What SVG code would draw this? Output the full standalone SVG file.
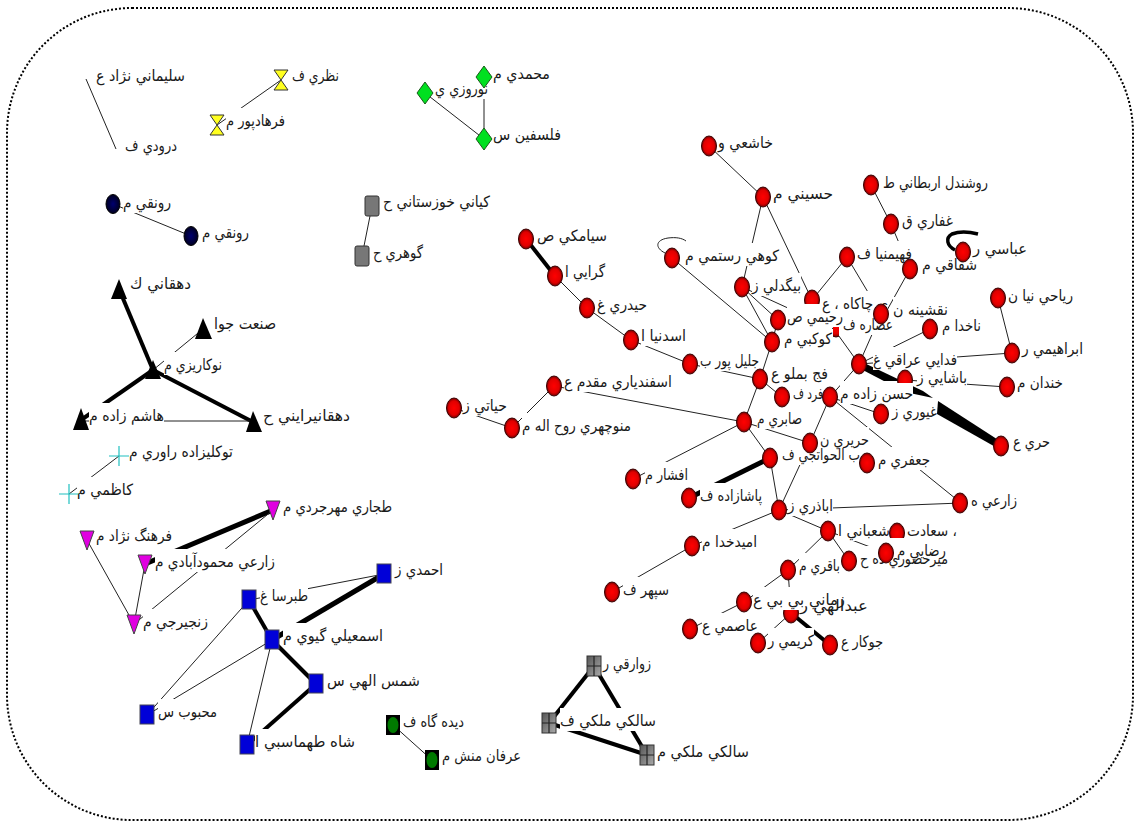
<svg xmlns="http://www.w3.org/2000/svg" width="1134" height="821" viewBox="0 0 1134 821">
<style>
text{font-family:"DejaVu Sans","Noto Sans",sans-serif;font-size:15.5px;fill:#1a1a1a}
.f{fill:none;stroke:#000;stroke-width:2;stroke-dasharray:2 2}
#connectors line,#connectors path{stroke:#222;stroke-width:1;fill:none}
#connectors .t4{stroke:#000;stroke-width:4}
#connectors .t5{stroke:#000;stroke-width:5}
#connectors .k{fill:#000;stroke:none}
.p{fill:#fff}
.r{fill:url(#gr);stroke:#3a0000;stroke-width:1}
.nv{fill:url(#gn);stroke:#000;stroke-width:1}
.y{fill:#ffff20;stroke:#333;stroke-width:1}
.d{fill:#00e020;stroke:#1a5a1a;stroke-width:1}
.gy{fill:#777;stroke:#333;stroke-width:1}
.b{fill:#000}
.m{fill:#e000e0;stroke:#444;stroke-width:1}
.bl{fill:#0000d8;stroke:#445;stroke-width:1}
.gb{fill:#000}
.ge{fill:#007a00}
.gs{fill:url(#gg);stroke:#333;stroke-width:1}
.gl{stroke:#222;stroke-width:1.2;fill:none}
.c{stroke:#20c0c0;stroke-width:1.2;fill:none}
</style>
<defs>
<radialGradient id="gr"><stop offset="0" stop-color="#ff0000"/><stop offset=".7" stop-color="#e00000"/><stop offset="1" stop-color="#700000"/></radialGradient>
<radialGradient id="gn"><stop offset="0" stop-color="#000070"/><stop offset="1" stop-color="#000020"/></radialGradient>
<linearGradient id="gg" x1="0" y1="0" x2="1" y2="1"><stop offset="0" stop-color="#555"/><stop offset="1" stop-color="#aaa"/></linearGradient>
<clipPath id="c1"><rect x="800" y="285" width="30" height="19"/></clipPath>
<clipPath id="c2"><rect x="833" y="327" width="6" height="12"/></clipPath>
<clipPath id="c3"><rect x="890" y="365" width="30" height="18"/></clipPath>
<clipPath id="c4"><rect x="885" y="520" width="24" height="18"/></clipPath>
<clipPath id="c5"><rect x="780" y="610" width="24" height="16"/></clipPath>
</defs>
<rect class="f" x="7" y="8" width="1126" height="812" rx="125" ry="125"/>
<g id="connectors">
<line x1="86" y1="79" x2="116" y2="149"/>
<line x1="217" y1="125" x2="281" y2="80"/>
<line x1="425" y1="93" x2="484" y2="139"/>
<line x1="484" y1="77" x2="484" y2="139"/>
<line x1="113" y1="204" x2="191" y2="236"/>
<line x1="372" y1="206" x2="362" y2="256"/>
<line class="t4" x1="119" y1="289" x2="153" y2="370"/>
<line class="t4" x1="153" y1="370" x2="81" y2="420"/>
<line class="t4" x1="153" y1="370" x2="253" y2="422"/>
<line x1="81" y1="421" x2="253" y2="421"/>
<line x1="203" y1="329" x2="153" y2="370"/>
<line x1="119" y1="456" x2="69" y2="494"/>
<line class="t5" x1="273" y1="510" x2="145" y2="564"/>
<line x1="273" y1="510" x2="134" y2="624"/>
<line x1="87" y1="540" x2="134" y2="624"/>
<line x1="145" y1="564" x2="134" y2="624"/>
<line class="t5" x1="384" y1="574" x2="272" y2="640"/>
<line x1="384" y1="574" x2="249" y2="600"/>
<line class="t4" x1="249" y1="600" x2="272" y2="640"/>
<line class="t4" x1="272" y1="640" x2="316" y2="684"/>
<line class="t4" x1="316" y1="684" x2="247" y2="745"/>
<line x1="249" y1="600" x2="147" y2="715"/>
<line x1="272" y1="640" x2="147" y2="715"/>
<line x1="272" y1="640" x2="247" y2="745"/>
<line x1="393" y1="725" x2="432" y2="760"/>
<line class="t4" x1="594" y1="666" x2="549" y2="723"/>
<line class="t4" x1="594" y1="666" x2="647" y2="755"/>
<line class="t4" x1="549" y1="723" x2="647" y2="755"/>
<line x1="709" y1="146" x2="763" y2="197"/>
<line x1="763" y1="197" x2="742" y2="287"/>
<line x1="763" y1="197" x2="812" y2="300"/>
<line x1="871" y1="185" x2="891" y2="224"/>
<line x1="891" y1="224" x2="910" y2="269"/>
<line x1="672" y1="258" x2="772" y2="342"/>
<line x1="742" y1="287" x2="778" y2="320"/>
<line x1="742" y1="287" x2="772" y2="342"/>
<line x1="742" y1="287" x2="836" y2="330"/>
<line x1="778" y1="320" x2="772" y2="342"/>
<line x1="847" y1="257" x2="812" y2="300"/>
<line x1="847" y1="257" x2="881" y2="314"/>
<line x1="910" y1="269" x2="881" y2="321"/>
<line x1="881" y1="314" x2="859" y2="364"/>
<line x1="930" y1="329" x2="859" y2="364"/>
<line x1="836" y1="332" x2="859" y2="364"/>
<line x1="1012" y1="353" x2="859" y2="364"/>
<line x1="998" y1="298" x2="1012" y2="353"/>
<line x1="1007" y1="387" x2="905" y2="380"/>
<path class="k" d="M857 367L860 361L923 391L933 398L905 392Z"/>
<path class="k" d="M938 401L1003 443L999 449L937 414Z"/>
<line x1="859" y1="364" x2="830" y2="397"/>
<line x1="830" y1="397" x2="810" y2="443"/>
<line x1="830" y1="397" x2="961" y2="503"/>
<line x1="830" y1="397" x2="881" y2="414"/>
<line x1="772" y1="342" x2="760" y2="379"/>
<line x1="760" y1="379" x2="744" y2="422"/>
<line x1="760" y1="379" x2="782" y2="397"/>
<line x1="690" y1="364" x2="760" y2="379"/>
<line class="t4" x1="526" y1="239" x2="555" y2="276"/>
<line x1="555" y1="276" x2="587" y2="308"/>
<line x1="587" y1="308" x2="631" y2="340"/>
<line x1="631" y1="340" x2="690" y2="364"/>
<line x1="744" y1="422" x2="554" y2="386"/>
<line x1="744" y1="422" x2="810" y2="443"/>
<line x1="744" y1="422" x2="770" y2="458"/>
<line x1="744" y1="422" x2="633" y2="479"/>
<line x1="770" y1="458" x2="779" y2="510"/>
<line class="t5" x1="770" y1="458" x2="689" y2="498"/>
<line x1="810" y1="443" x2="779" y2="510"/>
<line x1="779" y1="510" x2="961" y2="503"/>
<line x1="779" y1="510" x2="692" y2="546"/>
<line x1="779" y1="510" x2="828" y2="531"/>
<line x1="692" y1="546" x2="612" y2="592"/>
<line x1="828" y1="531" x2="788" y2="570"/>
<line x1="828" y1="531" x2="849" y2="561"/>
<line x1="828" y1="531" x2="886" y2="553"/>
<line x1="788" y1="570" x2="744" y2="602"/>
<line x1="788" y1="570" x2="791" y2="613"/>
<line x1="744" y1="602" x2="690" y2="629"/>
<line x1="791" y1="613" x2="758" y2="643"/>
<line class="t4" x1="791" y1="613" x2="830" y2="645"/>
<line x1="554" y1="386" x2="512" y2="428"/>
<line x1="454" y1="408" x2="512" y2="428"/>
<path d="M665 253C655 248 655 240 668 238C676 237 682 238 686 241"/>
<path class="t4" style="stroke-width:3.5" d="M955 250C947 246 945 238 952 234C960 231 970 232 978 234"/>
</g>
<g id="label-plates">
<rect class="p" x="96" y="63" width="89" height="23"/>
<rect class="p" x="125" y="133" width="52" height="23"/>
<rect class="p" x="292" y="63" width="47" height="23"/>
<rect class="p" x="226" y="108" width="59" height="23"/>
<rect class="p" x="493" y="61" width="57" height="23"/>
<rect class="p" x="435" y="76" width="53" height="23"/>
<rect class="p" x="493" y="122" width="68" height="23"/>
<rect class="p" x="123" y="190" width="48" height="23"/>
<rect class="p" x="202" y="220" width="47" height="23"/>
<rect class="p" x="383" y="189" width="107" height="23"/>
<rect class="p" x="373" y="240" width="50" height="23"/>
<rect class="p" x="130" y="271" width="61" height="23"/>
<rect class="p" x="214" y="311" width="62" height="23"/>
<rect class="p" x="164" y="352" width="58" height="23"/>
<rect class="p" x="89" y="403" width="75" height="23"/>
<rect class="p" x="263" y="403" width="87" height="23"/>
<rect class="p" x="129" y="439" width="104" height="23"/>
<rect class="p" x="77" y="477" width="56" height="23"/>
<rect class="p" x="283" y="494" width="109" height="23"/>
<rect class="p" x="96" y="523" width="76" height="23"/>
<rect class="p" x="155" y="549" width="120" height="23"/>
<rect class="p" x="143" y="609" width="65" height="23"/>
<rect class="p" x="395" y="557" width="48" height="23"/>
<rect class="p" x="260" y="583" width="48" height="23"/>
<rect class="p" x="283" y="623" width="100" height="23"/>
<rect class="p" x="327" y="668" width="93" height="23"/>
<rect class="p" x="158" y="699" width="59" height="23"/>
<rect class="p" x="255" y="729" width="100" height="23"/>
<rect class="p" x="403" y="709" width="61" height="23"/>
<rect class="p" x="442" y="743" width="79" height="23"/>
<rect class="p" x="603" y="651" width="48" height="23"/>
<rect class="p" x="560" y="708" width="96" height="23"/>
<rect class="p" x="657" y="739" width="92" height="23"/>
<rect class="p" x="718" y="130" width="55" height="23"/>
<rect class="p" x="773" y="181" width="60" height="23"/>
<rect class="p" x="883" y="170" width="105" height="23"/>
<rect class="p" x="902" y="208" width="51" height="23"/>
<rect class="p" x="973" y="236" width="54" height="23"/>
<rect class="p" x="857" y="241" width="55" height="23"/>
<rect class="p" x="922" y="252" width="55" height="23"/>
<rect class="p" x="685" y="243" width="94" height="23"/>
<rect class="p" x="752" y="273" width="49" height="23"/>
<rect class="p" x="787" y="304" width="56" height="23"/>
<rect class="p" x="822" y="291" width="66" height="23"/>
<rect class="p" x="893" y="297" width="55" height="23"/>
<rect class="p" x="942" y="313" width="39" height="23"/>
<rect class="p" x="843" y="312" width="50" height="23"/>
<rect class="p" x="873" y="347" width="84" height="23"/>
<rect class="p" x="1022" y="336" width="61" height="23"/>
<rect class="p" x="1008" y="283" width="65" height="23"/>
<rect class="p" x="1017" y="370" width="46" height="23"/>
<rect class="p" x="917" y="365" width="50" height="23"/>
<rect class="p" x="840" y="381" width="73" height="23"/>
<rect class="p" x="892" y="399" width="45" height="23"/>
<rect class="p" x="1013" y="429" width="37" height="23"/>
<rect class="p" x="784" y="326" width="48" height="23"/>
<rect class="p" x="700" y="348" width="59" height="23"/>
<rect class="p" x="771" y="361" width="57" height="23"/>
<rect class="p" x="793" y="381" width="30" height="23"/>
<rect class="p" x="757" y="406" width="45" height="23"/>
<rect class="p" x="820" y="427" width="49" height="23"/>
<rect class="p" x="878" y="447" width="52" height="23"/>
<rect class="p" x="782" y="442" width="78" height="23"/>
<rect class="p" x="645" y="462" width="43" height="23"/>
<rect class="p" x="700" y="483" width="62" height="23"/>
<rect class="p" x="788" y="493" width="45" height="23"/>
<rect class="p" x="838" y="518" width="52" height="23"/>
<rect class="p" x="907" y="518" width="50" height="23"/>
<rect class="p" x="897" y="538" width="49" height="23"/>
<rect class="p" x="860" y="546" width="88" height="23"/>
<rect class="p" x="799" y="553" width="41" height="23"/>
<rect class="p" x="702" y="529" width="55" height="23"/>
<rect class="p" x="623" y="577" width="46" height="23"/>
<rect class="p" x="753" y="587" width="92" height="23"/>
<rect class="p" x="800" y="593" width="68" height="23"/>
<rect class="p" x="702" y="613" width="56" height="23"/>
<rect class="p" x="768" y="628" width="46" height="23"/>
<rect class="p" x="841" y="629" width="42" height="23"/>
<rect class="p" x="971" y="488" width="46" height="23"/>
<rect class="p" x="537" y="223" width="70" height="23"/>
<rect class="p" x="565" y="259" width="40" height="23"/>
<rect class="p" x="597" y="292" width="50" height="23"/>
<rect class="p" x="641" y="323" width="45" height="23"/>
<rect class="p" x="564" y="369" width="108" height="23"/>
<rect class="p" x="463" y="393" width="44" height="23"/>
<rect class="p" x="522" y="413" width="109" height="23"/>
</g>
<g id="n001"><text x="96" y="81" textLength="89" lengthAdjust="spacingAndGlyphs">سليماني نژاد ع</text></g>
<g id="n002"><text x="125" y="151" textLength="52" lengthAdjust="spacingAndGlyphs">درودي ف</text></g>
<g id="n003"><polygon class="y" points="274,70 288,70 274,90 288,90"/><text x="292" y="81" textLength="47" lengthAdjust="spacingAndGlyphs">نظري ف</text></g>
<g id="n004"><polygon class="y" points="210,115 224,115 210,135 224,135"/><text x="226" y="126" textLength="59" lengthAdjust="spacingAndGlyphs">فرهادپور م</text></g>
<g id="n005"><polygon class="d" points="484,66 492,77 484,88 476,77"/><text x="493" y="79" textLength="57" lengthAdjust="spacingAndGlyphs">محمدي م</text></g>
<g id="n006"><polygon class="d" points="425,82 433,93 425,104 417,93"/><text x="435" y="94" textLength="53" lengthAdjust="spacingAndGlyphs">نوروزي ي</text></g>
<g id="n007"><polygon class="d" points="484,128 492,139 484,150 476,139"/><text x="493" y="140" textLength="68" lengthAdjust="spacingAndGlyphs">فلسفين س</text></g>
<g id="n008"><ellipse class="nv" cx="113" cy="204" rx="7" ry="9.5"/><text x="123" y="208" textLength="48" lengthAdjust="spacingAndGlyphs">رونقي م</text></g>
<g id="n009"><ellipse class="nv" cx="191" cy="236" rx="7" ry="9.5"/><text x="202" y="238" textLength="47" lengthAdjust="spacingAndGlyphs">رونقي م</text></g>
<g id="n010"><rect class="gy" x="365" y="196" width="14" height="20" rx="2"/><text x="383" y="207" textLength="107" lengthAdjust="spacingAndGlyphs">كياني خوزستاني ح</text></g>
<g id="n011"><rect class="gy" x="355" y="246" width="14" height="20" rx="2"/><text x="373" y="258" textLength="50" lengthAdjust="spacingAndGlyphs">گوهري ح</text></g>
<g id="n012"><polygon class="b" points="119,279 127,299 111,299"/><text x="130" y="289" textLength="61" lengthAdjust="spacingAndGlyphs">دهقاني ك</text></g>
<g id="n013"><polygon class="b" points="203,318 212,339 195,339"/><text x="214" y="329" textLength="62" lengthAdjust="spacingAndGlyphs">صنعت جوا</text></g>
<g id="n014"><polygon class="b" points="153,360 161,379 145,379"/><text x="164" y="370" textLength="58" lengthAdjust="spacingAndGlyphs">نوكاريزي م</text></g>
<g id="n015"><polygon class="b" points="81,408 89,430 73,430"/><text x="89" y="421" textLength="75" lengthAdjust="spacingAndGlyphs">هاشم زاده م</text></g>
<g id="n016"><polygon class="b" points="253,411 262,432 246,432"/><text x="263" y="421" textLength="87" lengthAdjust="spacingAndGlyphs">دهقانيرايني ح</text></g>
<g id="n017"><path class="c" d="M109 456H129M119 446V466"/><text x="129" y="457" textLength="104" lengthAdjust="spacingAndGlyphs">توكليزاده راوري م</text></g>
<g id="n018"><path class="c" d="M59 494H79M69 484V504"/><text x="77" y="495" textLength="56" lengthAdjust="spacingAndGlyphs">كاظمي م</text></g>
<g id="n019"><polygon class="m" points="266,501 280,501 273,520"/><text x="283" y="512" textLength="109" lengthAdjust="spacingAndGlyphs">طجاري مهرجردي م</text></g>
<g id="n020"><polygon class="m" points="80,531 94,531 87,550"/><text x="96" y="541" textLength="76" lengthAdjust="spacingAndGlyphs">فرهنگ نژاد م</text></g>
<g id="n021"><polygon class="m" points="138,555 152,555 145,574"/><text x="155" y="567" textLength="120" lengthAdjust="spacingAndGlyphs">زارعي محمودآبادي م</text></g>
<g id="n022"><polygon class="m" points="127,615 141,615 134,634"/><text x="143" y="627" textLength="65" lengthAdjust="spacingAndGlyphs">زنجيرجي م</text></g>
<g id="n023"><rect class="bl" x="377" y="564" width="14" height="19"/><text x="395" y="575" textLength="48" lengthAdjust="spacingAndGlyphs">احمدي ز</text></g>
<g id="n024"><rect class="bl" x="242" y="590" width="14" height="19"/><text x="260" y="601" textLength="48" lengthAdjust="spacingAndGlyphs">طبرسا غ</text></g>
<g id="n025"><rect class="bl" x="265" y="630" width="14" height="19"/><text x="283" y="641" textLength="100" lengthAdjust="spacingAndGlyphs">اسمعيلي گيوي م</text></g>
<g id="n026"><rect class="bl" x="309" y="674" width="14" height="19"/><text x="327" y="686" textLength="93" lengthAdjust="spacingAndGlyphs">شمس الهي س</text></g>
<g id="n027"><rect class="bl" x="140" y="705" width="14" height="19"/><text x="158" y="717" textLength="59" lengthAdjust="spacingAndGlyphs">محبوب س</text></g>
<g id="n028"><rect class="bl" x="240" y="735" width="14" height="19"/><text x="255" y="747" textLength="100" lengthAdjust="spacingAndGlyphs">شاه طهماسبي ا</text></g>
<g id="n029"><rect class="gb" x="386" y="715" width="14" height="20"/><ellipse class="ge" cx="393" cy="725" rx="5.5" ry="8"/><text x="403" y="727" textLength="61" lengthAdjust="spacingAndGlyphs">ديده گاه ف</text></g>
<g id="n030"><rect class="gb" x="425" y="750" width="14" height="20"/><ellipse class="ge" cx="432" cy="760" rx="5.5" ry="8"/><text x="442" y="761" textLength="79" lengthAdjust="spacingAndGlyphs">عرفان منش م</text></g>
<g id="n031"><rect class="gs" x="587" y="656" width="14" height="20"/><path class="gl" d="M594 656V676M587 666H601"/><text x="603" y="669" textLength="48" lengthAdjust="spacingAndGlyphs">زوارقي ر</text></g>
<g id="n032"><rect class="gs" x="542" y="713" width="14" height="20"/><path class="gl" d="M549 713V733M542 723H556"/><text x="560" y="726" textLength="96" lengthAdjust="spacingAndGlyphs">سالكي ملكي ف</text></g>
<g id="n033"><rect class="gs" x="640" y="745" width="14" height="20"/><path class="gl" d="M647 745V765M640 755H654"/><text x="657" y="757" textLength="92" lengthAdjust="spacingAndGlyphs">سالكي ملكي م</text></g>
<g id="n034"><ellipse class="r" cx="709" cy="146" rx="7.5" ry="10"/><text x="718" y="148" textLength="55" lengthAdjust="spacingAndGlyphs">خاشعي و</text></g>
<g id="n035"><ellipse class="r" cx="763" cy="197" rx="7.5" ry="10"/><text x="773" y="199" textLength="60" lengthAdjust="spacingAndGlyphs">حسيني م</text></g>
<g id="n036"><ellipse class="r" cx="871" cy="185" rx="7.5" ry="10"/><text x="883" y="188" textLength="105" lengthAdjust="spacingAndGlyphs">روشندل اربطاني ط</text></g>
<g id="n037"><ellipse class="r" cx="891" cy="224" rx="7.5" ry="10"/><text x="902" y="226" textLength="51" lengthAdjust="spacingAndGlyphs">غفاري ق</text></g>
<g id="n038"><ellipse class="r" cx="963" cy="252" rx="7.5" ry="10"/><text x="973" y="254" textLength="54" lengthAdjust="spacingAndGlyphs">عباسي ر</text></g>
<g id="n039"><ellipse class="r" cx="847" cy="257" rx="7.5" ry="10"/><text x="857" y="259" textLength="55" lengthAdjust="spacingAndGlyphs">فهيمنيا ف</text></g>
<g id="n040"><ellipse class="r" cx="910" cy="269" rx="7.5" ry="10"/><text x="922" y="270" textLength="55" lengthAdjust="spacingAndGlyphs">شفاقي م</text></g>
<g id="n041"><ellipse class="r" cx="672" cy="258" rx="7.5" ry="10"/><text x="685" y="261" textLength="94" lengthAdjust="spacingAndGlyphs">كوهي رستمي م</text></g>
<g id="n042"><ellipse class="r" cx="742" cy="287" rx="7.5" ry="10"/><text x="752" y="291" textLength="49" lengthAdjust="spacingAndGlyphs">بيگدلي ز</text></g>
<g id="n043"><ellipse class="r" cx="778" cy="320" rx="7.5" ry="10"/><text x="787" y="322" textLength="56" lengthAdjust="spacingAndGlyphs">رحيمي ص</text></g>
<g id="n044"><ellipse class="r" cx="812" cy="300" rx="7.5" ry="10" clip-path="url(#c1)"/><text x="822" y="309" textLength="66" lengthAdjust="spacingAndGlyphs">ي چاكاه ، ع</text></g>
<g id="n045"><ellipse class="r" cx="881" cy="314" rx="7.5" ry="10"/><text x="893" y="315" textLength="55" lengthAdjust="spacingAndGlyphs">نقشينه ن</text></g>
<g id="n046"><ellipse class="r" cx="930" cy="329" rx="7.5" ry="10"/><text x="942" y="331" textLength="39" lengthAdjust="spacingAndGlyphs">ناخدا م</text></g>
<g id="n047"><ellipse class="r" cx="836" cy="327" rx="7.5" ry="10" clip-path="url(#c2)"/><text x="843" y="330" textLength="50" lengthAdjust="spacingAndGlyphs">عصاره ف</text></g>
<g id="n048"><ellipse class="r" cx="859" cy="364" rx="7.5" ry="10"/><text x="873" y="365" textLength="84" lengthAdjust="spacingAndGlyphs">فدايي عراقي غ</text></g>
<g id="n049"><ellipse class="r" cx="1012" cy="353" rx="7.5" ry="10"/><text x="1022" y="354" textLength="61" lengthAdjust="spacingAndGlyphs">ابراهيمي ر</text></g>
<g id="n050"><ellipse class="r" cx="998" cy="298" rx="7.5" ry="10"/><text x="1008" y="301" textLength="65" lengthAdjust="spacingAndGlyphs">رياحي نيا ن</text></g>
<g id="n051"><ellipse class="r" cx="1007" cy="387" rx="7.5" ry="10"/><text x="1017" y="388" textLength="46" lengthAdjust="spacingAndGlyphs">خندان م</text></g>
<g id="n052"><ellipse class="r" cx="905" cy="380" rx="7.5" ry="10" clip-path="url(#c3)"/><text x="917" y="383" textLength="50" lengthAdjust="spacingAndGlyphs">باشايي ز</text></g>
<g id="n053"><ellipse class="r" cx="830" cy="397" rx="7.5" ry="10"/><text x="840" y="399" textLength="73" lengthAdjust="spacingAndGlyphs">حسن زاده م</text></g>
<g id="n054"><ellipse class="r" cx="881" cy="414" rx="7.5" ry="10"/><text x="892" y="417" textLength="45" lengthAdjust="spacingAndGlyphs">غيوري ز</text></g>
<g id="n055"><ellipse class="r" cx="1001" cy="446" rx="7.5" ry="10"/><text x="1013" y="447" textLength="37" lengthAdjust="spacingAndGlyphs">حري ع</text></g>
<g id="n056"><ellipse class="r" cx="772" cy="342" rx="7.5" ry="10"/><text x="784" y="344" textLength="48" lengthAdjust="spacingAndGlyphs">كوكبي م</text></g>
<g id="n057"><ellipse class="r" cx="690" cy="364" rx="7.5" ry="10"/><text x="700" y="366" textLength="59" lengthAdjust="spacingAndGlyphs">جليل پور ب</text></g>
<g id="n058"><ellipse class="r" cx="760" cy="379" rx="7.5" ry="10"/><text x="771" y="379" textLength="57" lengthAdjust="spacingAndGlyphs">فج بملو ع</text></g>
<g id="n059"><ellipse class="r" cx="782" cy="397" rx="7.5" ry="10"/><text x="793" y="399" textLength="30" lengthAdjust="spacingAndGlyphs">فرد ف</text></g>
<g id="n060"><ellipse class="r" cx="744" cy="422" rx="7.5" ry="10"/><text x="757" y="424" textLength="45" lengthAdjust="spacingAndGlyphs">صابري م</text></g>
<g id="n061"><ellipse class="r" cx="810" cy="443" rx="7.5" ry="10"/><text x="820" y="445" textLength="49" lengthAdjust="spacingAndGlyphs">حريري ن</text></g>
<g id="n063"><text x="782" y="460" textLength="78" lengthAdjust="spacingAndGlyphs">ب الحواتجي ف</text><ellipse class="r" cx="770" cy="458" rx="7.5" ry="10"/></g>
<g id="n062"><ellipse class="r" cx="867" cy="463" rx="7.5" ry="10"/><text x="878" y="465" textLength="52" lengthAdjust="spacingAndGlyphs">جعفري م</text></g>
<g id="n064"><ellipse class="r" cx="633" cy="479" rx="7.5" ry="10"/><text x="645" y="480" textLength="43" lengthAdjust="spacingAndGlyphs">افشار م</text></g>
<g id="n065"><ellipse class="r" cx="689" cy="498" rx="7.5" ry="10"/><text x="700" y="501" textLength="62" lengthAdjust="spacingAndGlyphs">پاشازاده ف</text></g>
<g id="n066"><ellipse class="r" cx="779" cy="510" rx="7.5" ry="10"/><text x="788" y="511" textLength="45" lengthAdjust="spacingAndGlyphs">اباذري ز</text></g>
<g id="n067"><ellipse class="r" cx="828" cy="531" rx="7.5" ry="10"/><text x="838" y="536" textLength="52" lengthAdjust="spacingAndGlyphs">شعباني ا</text></g>
<g id="n068"><ellipse class="r" cx="897" cy="533" rx="7.5" ry="10" clip-path="url(#c4)"/><text x="907" y="536" textLength="50" lengthAdjust="spacingAndGlyphs">سعادت ،</text></g>
<g id="n069"><text x="860" y="564" textLength="88" lengthAdjust="spacingAndGlyphs">ميرحضوري ده ح</text><ellipse class="r" cx="849" cy="561" rx="7.5" ry="10"/></g>
<g id="n070"><ellipse class="r" cx="886" cy="553" rx="7.5" ry="10"/><text x="897" y="556" textLength="49" lengthAdjust="spacingAndGlyphs">رضايي م</text></g>
<g id="n071"><ellipse class="r" cx="788" cy="570" rx="7.5" ry="10"/><text x="799" y="571" textLength="41" lengthAdjust="spacingAndGlyphs">باقري م</text></g>
<g id="n072"><ellipse class="r" cx="692" cy="546" rx="7.5" ry="10"/><text x="702" y="547" textLength="55" lengthAdjust="spacingAndGlyphs">اميدخدا م</text></g>
<g id="n073"><ellipse class="r" cx="612" cy="592" rx="7.5" ry="10"/><text x="623" y="595" textLength="46" lengthAdjust="spacingAndGlyphs">سپهر ف</text></g>
<g id="n074"><ellipse class="r" cx="744" cy="602" rx="7.5" ry="10"/><text x="753" y="605" textLength="92" lengthAdjust="spacingAndGlyphs">زماني بي بي ع</text></g>
<g id="n075"><ellipse class="r" cx="791" cy="613" rx="7.5" ry="10" clip-path="url(#c5)"/><text x="800" y="611" textLength="68" lengthAdjust="spacingAndGlyphs">عبدالهي ر</text></g>
<g id="n076"><ellipse class="r" cx="690" cy="629" rx="7.5" ry="10"/><text x="702" y="631" textLength="56" lengthAdjust="spacingAndGlyphs">عاصمي ع</text></g>
<g id="n077"><ellipse class="r" cx="758" cy="643" rx="7.5" ry="10"/><text x="768" y="646" textLength="46" lengthAdjust="spacingAndGlyphs">كريمي ر</text></g>
<g id="n078"><ellipse class="r" cx="830" cy="645" rx="7.5" ry="10"/><text x="841" y="647" textLength="42" lengthAdjust="spacingAndGlyphs">جوكار ع</text></g>
<g id="n079"><ellipse class="r" cx="960" cy="503" rx="7.5" ry="10"/><text x="971" y="506" textLength="46" lengthAdjust="spacingAndGlyphs">زارعي ه</text></g>
<g id="n080"><ellipse class="r" cx="526" cy="239" rx="7.5" ry="10"/><text x="537" y="241" textLength="70" lengthAdjust="spacingAndGlyphs">سيامكي ص</text></g>
<g id="n081"><ellipse class="r" cx="555" cy="276" rx="7.5" ry="10"/><text x="565" y="277" textLength="40" lengthAdjust="spacingAndGlyphs">گرايي ا</text></g>
<g id="n082"><ellipse class="r" cx="587" cy="308" rx="7.5" ry="10"/><text x="597" y="310" textLength="50" lengthAdjust="spacingAndGlyphs">حيدري غ</text></g>
<g id="n083"><ellipse class="r" cx="631" cy="340" rx="7.5" ry="10"/><text x="641" y="341" textLength="45" lengthAdjust="spacingAndGlyphs">اسدنيا ا</text></g>
<g id="n084"><ellipse class="r" cx="554" cy="386" rx="7.5" ry="10"/><text x="564" y="387" textLength="108" lengthAdjust="spacingAndGlyphs">اسفندياري مقدم ع</text></g>
<g id="n085"><ellipse class="r" cx="454" cy="408" rx="7.5" ry="10"/><text x="463" y="411" textLength="44" lengthAdjust="spacingAndGlyphs">حياتي ز</text></g>
<g id="n086"><ellipse class="r" cx="512" cy="428" rx="7.5" ry="10"/><text x="522" y="431" textLength="109" lengthAdjust="spacingAndGlyphs">منوچهري روح اله م</text></g>
</svg>
